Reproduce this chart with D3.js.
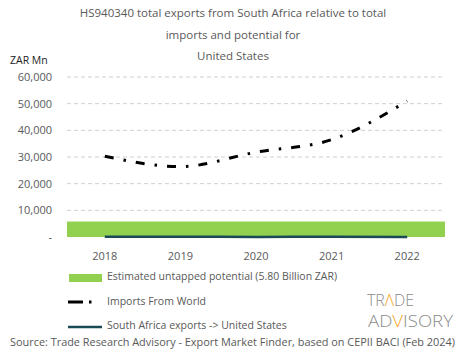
<!DOCTYPE html>
<html><head><meta charset="utf-8">
<script src="https://cdn.jsdelivr.net/npm/d3@7"></script>
<style>body{margin:0;background:#fff}svg{display:block}text{font-family:"Open Sans",sans-serif}</style>
</head><body>
<script>
const years = ["2018","2019","2020","2021","2022"];
const importsWorld = [30300, 26400, 31800, 36500, 51000];
const saExports = [60, 120, 40, 90, 30];
const untappedPotential = 5800;
const yTicks = [0, 10000, 20000, 30000, 40000, 50000, 60000];
const titleLines = ["HS940340 total exports from South Africa relative  to total", "imports and potential  for", "United States"];

const W = 465, H = 359;
const svg = d3.select("body").append("svg").attr("width", W).attr("height", H);
const x = d3.scaleBand().domain(years).range([67, 445]);
const y = d3.scaleLinear().domain([0, 60000]).range([237, 77]);
const gray = "#595959";

// title
svg.selectAll("text.title").data(titleLines).join("text")
  .attr("x", 233).attr("y", (d, i) => 17 + i * 21.5)
  .attr("text-anchor", "middle").attr("font-size", 11.5).attr("fill", gray).text(d => d);
svg.append("text").attr("x", 10).attr("y", 64).attr("font-size", 10.5).attr("fill", "#222").text("ZAR Mn");

// grid
svg.append("g").selectAll("line").data(yTicks.filter(d => d > 0)).join("line")
  .attr("x1", 67).attr("x2", 445).attr("y1", d => y(d)).attr("y2", d => y(d))
  .attr("stroke", "#d0d0d0").attr("stroke-dasharray", "4,3").attr("stroke-width", 1);

// y axis
const yAxis = svg.append("g").attr("transform", "translate(56,0)")
  .call(d3.axisLeft(y).tickValues(yTicks).tickSize(0).tickPadding(4)
    .tickFormat(d => d === 0 ? "-" : d3.format(",")(d)));
yAxis.select(".domain").remove();
yAxis.selectAll("text").attr("font-size", 11).attr("fill", gray).style("font-family", '"Open Sans",sans-serif');

// x axis
const xAxis = svg.append("g").attr("transform", "translate(0,250)")
  .call(d3.axisBottom(x).tickSize(0).tickPadding(2));
xAxis.select(".domain").remove();
xAxis.selectAll("text").attr("font-size", 11).attr("fill", gray).style("font-family", '"Open Sans",sans-serif');

// untapped potential band
svg.append("rect").attr("x", 67).attr("width", 378)
  .attr("y", y(untappedPotential)).attr("height", y(0) - y(untappedPotential))
  .attr("fill", "#92D050");

const cx = d => x(d) + x.bandwidth() / 2;
const line = d3.line().x((d, i) => cx(years[i])).y(d => y(d)).curve(d3.curveMonotoneX);

svg.append("path").datum(saExports).attr("d", line).attr("fill", "none")
  .attr("stroke", "#1B4A57").attr("stroke-width", 2.5);

svg.append("path").datum(importsWorld).attr("d", line).attr("fill", "none")
  .attr("stroke", "#000").attr("stroke-width", 3)
  .attr("stroke-dasharray", "9,10,2.5,10");

// legend
svg.append("rect").attr("x", 69).attr("y", 274).attr("width", 33).attr("height", 8).attr("fill", "#92D050");
svg.append("text").attr("x", 107).attr("y", 280).attr("font-size", 10.5).attr("fill", gray).text("Estimated untapped potential (5.80 Billion ZAR)");
svg.append("line").attr("x1", 68).attr("x2", 83).attr("y1", 302).attr("y2", 302).attr("stroke", "#000").attr("stroke-width", 3);
svg.append("line").attr("x1", 89).attr("x2", 91.5).attr("y1", 302).attr("y2", 302).attr("stroke", "#000").attr("stroke-width", 3);
svg.append("text").attr("x", 107).attr("y", 305).attr("font-size", 10.5).attr("fill", gray).text("Imports From World");
svg.append("line").attr("x1", 68).attr("x2", 102).attr("y1", 327).attr("y2", 327).attr("stroke", "#1B4A57").attr("stroke-width", 2.5);
svg.append("text").attr("x", 107).attr("y", 329).attr("font-size", 10.5).attr("fill", gray).text("South Africa exports -> United States");

// logo
const logo = svg.append("g").attr("font-family", "Roboto").attr("font-weight", 300).attr("font-size", 17).attr("fill", "#8a8a8a");
const t1 = logo.append("text").attr("x", 367).attr("y", 306).attr("textLength", 47).attr("lengthAdjust", "spacingAndGlyphs");
t1.append("tspan").text("TR");
t1.append("tspan").attr("fill", "#F5A623").text("Λ");
t1.append("tspan").text("DE");
const t2 = logo.append("text").attr("x", 368).attr("y", 327).attr("textLength", 85).attr("lengthAdjust", "spacingAndGlyphs");
t2.append("tspan").text("AD");
t2.append("tspan").attr("fill", "#F5A623").text("V");
t2.append("tspan").text("ISORY");

svg.append("text").attr("x", 10).attr("y", 346).attr("font-size", 10.5).attr("fill", gray)
  .attr("textLength", 445).attr("lengthAdjust", "spacingAndGlyphs")
  .text("Source: Trade Research Advisory - Export Market Finder, based on CEPII BACI (Feb 2024)");
</script>
</body></html>
